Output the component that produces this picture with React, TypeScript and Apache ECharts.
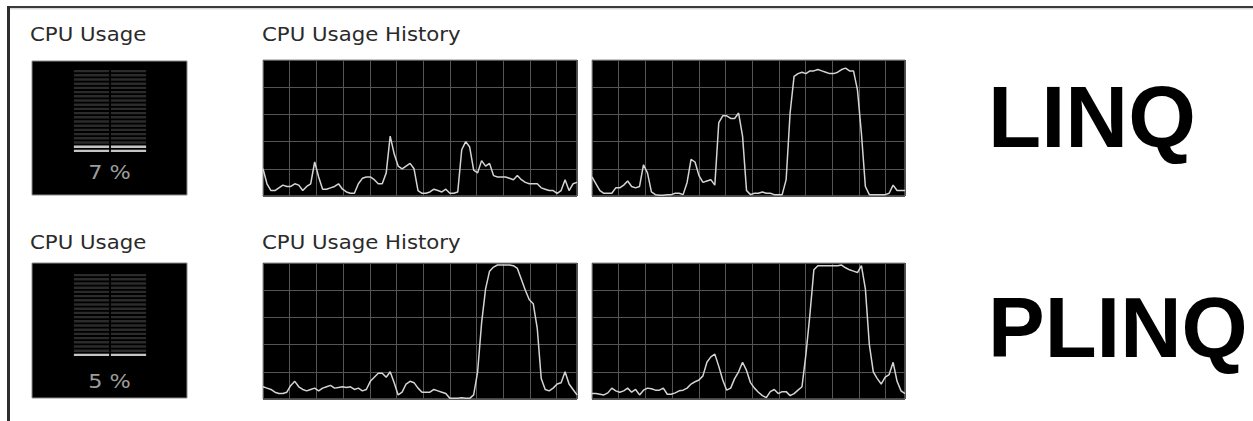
import React, { useEffect, useRef } from "react";
import * as echarts from "echarts";

// ---- Data (CPU %, one sample per tick) ----
const linqHistoryCore1 = [
  20, 9, 4, 4, 6, 8, 7, 7, 9, 8, 4, 7, 9, 25, 14, 5, 5, 6, 7, 9,
  5, 3, 2, 2, 9, 13, 14, 14, 12, 9, 9, 17, 44, 31, 22, 20, 22, 24, 20, 4,
  2, 2, 3, 5, 4, 3, 5, 2, 2, 3, 34, 40, 36, 19, 17, 26, 22, 24, 15, 14,
  14, 14, 13, 12, 15, 12, 10, 9, 9, 9, 6, 5, 4, 4, 2, 4, 12, 4, 9, 10,
];
const linqHistoryCore2 = [
  14, 9, 4, 2, 2, 2, 6, 6, 8, 11, 7, 6, 7, 23, 17, 3, 1, 0.5, 0.5, 1,
  1, 2, 2, 1, 10, 27, 25, 15, 10, 11, 12, 8, 54, 59, 59, 57, 57, 61, 44, 4,
  1, 2, 2, 3, 2, 2, 1, 1, 1, 12, 61, 88, 90, 91, 90, 92, 92, 93, 92, 91,
  90, 90, 91, 93, 94, 92, 92, 78, 46, 7, 1, 1, 1, 1, 1, 2, 8, 4, 4, 4,
];
const plinqHistoryCore1 = [
  9, 8, 7, 5, 4, 4, 5, 10, 13, 9, 7, 6, 7, 8, 6, 8, 9, 10, 8, 8.5,
  9, 8.5, 9, 7, 8, 6, 7, 13, 16, 19, 19, 16, 20, 12, 3, 5, 11, 13, 12, 8,
  5, 5, 5, 7, 6, 5, 4, 0.5, 0.5, 0.5, 1, 0.5, 0.5, 3, 20, 56, 81, 94, 97, 98.5,
  98.5, 98.5, 98.5, 98, 96, 88, 80, 73, 70, 52, 15, 7, 6, 8, 11, 12, 20, 11, 7, 3,
];
const plinqHistoryCore2 = [
  4, 4, 3.5, 3, 4.5, 8, 6, 5, 6, 8, 5, 7, 3, 6.5, 8, 7.5, 6.5, 6.5, 8, 3.5,
  3.5, 4.5, 6, 6.5, 8, 11, 12.7, 14, 17, 27, 31, 33, 24, 14, 6.5, 8, 15, 20, 27, 21,
  12, 8, 5, 2.5, 1, 5.4, 7, 4, 5.4, 5.4, 2.5, 4, 6.5, 9, 33, 62, 95, 98, 98, 98,
  98, 98, 98, 98.5, 96.5, 95, 94, 93, 98, 81, 40, 20, 15, 11, 16, 18, 27, 13, 6, 4,
];
const cpuUsageNow = [7, 5]; // LINQ row, PLINQ row
const meterColumns = ["CPU 0", "CPU 1"];
const rowLabels = ["LINQ", "PLINQ"];
const panelTitles = ["CPU Usage", "CPU Usage History"];

export default function App() {
  const ref = useRef<HTMLDivElement>(null);

  useEffect(() => {
    if (!ref.current) return;
    const chart = echarts.init(ref.current, undefined, { renderer: "svg" });

    const histories = [linqHistoryCore1, linqHistoryCore2, plinqHistoryCore1, plinqHistoryCore2];
    const histBoxes = [
      { left: 263, top: 60, width: 314, height: 136 },
      { left: 592, top: 60, width: 313, height: 136 },
      { left: 263, top: 263, width: 314, height: 136 },
      { left: 592, top: 263, width: 313, height: 136 },
    ];
    const meterAreas = [
      { left: 73, top: 69, width: 74, height: 84 },
      { left: 73, top: 273, width: 74, height: 84 },
    ];
    const meterBoxes = [
      { x: 32, y: 61, width: 155, height: 134 },
      { x: 32, y: 263, width: 155, height: 135 },
    ];
    const rowTop = [0, 208];

    const grid: any[] = [];
    const xAxis: any[] = [];
    const yAxis: any[] = [];
    const series: any[] = [];
    const gridLineColor = "#555555";

    histories.forEach((vals, g) => {
      grid.push({
        ...histBoxes[g],
        show: true,
        backgroundColor: "#000",
        borderColor: "#8c8c8c",
        borderWidth: 1,
        containLabel: false,
      });
      xAxis.push({
        type: "category",
        gridIndex: g,
        boundaryGap: false,
        data: vals.map((_, i) => i),
        show: false,
      });
      xAxis.push({
        type: "value",
        gridIndex: g,
        position: "top",
        min: -0.68,
        max: -0.68 + histBoxes[g].width / 26.7,
        interval: 1,
        axisLine: { show: false },
        axisTick: { show: false },
        axisLabel: { show: false },
        splitLine: { show: true, lineStyle: { color: gridLineColor, width: 1 } },
      });
      yAxis.push({
        type: "value",
        gridIndex: g,
        min: 0,
        max: 100,
        interval: 20,
        axisLine: { show: false },
        axisTick: { show: false },
        axisLabel: { show: false },
        splitLine: { show: true, lineStyle: { color: gridLineColor, width: 1 } },
      });
      series.push({
        type: "line",
        xAxisIndex: 2 * g,
        yAxisIndex: g,
        data: vals,
        showSymbol: false,
        lineStyle: { color: "#d4d4d4", width: 1.5 },
        z: 5,
      });
    });

    cpuUsageNow.forEach((v, m) => {
      const gi = 4 + m;
      grid.push({ ...meterAreas[m], show: false, containLabel: false });
      xAxis.push({ type: "category", gridIndex: gi, data: meterColumns, show: false });
      yAxis.push({ type: "value", gridIndex: gi, min: 0, max: 100, show: false });
      const common = {
        type: "pictorialBar",
        xAxisIndex: 8 + m,
        yAxisIndex: gi,
        symbol: "rect",
        symbolSize: [35, 2.2],
        symbolRepeat: true,
        symbolMargin: "1!",
        symbolBoundingData: 100,
        barWidth: 35,
        barGap: "-100%",
      };
      series.push({
        ...common,
        data: meterColumns.map(() => 100),
        itemStyle: { color: "#2b2b2b" },
        z: 3,
      });
      series.push({
        ...common,
        data: meterColumns.map(() => v),
        itemStyle: { color: "#c4c4c4" },
        z: 4,
      });
    });

    const textFont = "DejaVu Sans";
    const graphic: any[] = [
      { type: "line", shape: { x1: 8, y1: 7, x2: 1253, y2: 7 }, style: { stroke: "#3a3a3a", lineWidth: 2 }, z: 1 },
      { type: "line", shape: { x1: 8, y1: 8.8, x2: 1253, y2: 8.8 }, style: { stroke: "#c8c8c8", lineWidth: 1 }, z: 1 },
      { type: "line", shape: { x1: 8.5, y1: 6, x2: 8.5, y2: 421 }, style: { stroke: "#2e2e2e", lineWidth: 3 }, z: 1 },
    ];
    meterBoxes.forEach((b, m) => {
      graphic.push({
        type: "rect",
        shape: b,
        style: { fill: "#000", stroke: "#8c8c8c", lineWidth: 1 },
        z: 0,
      });
      graphic.push({
        type: "text",
        x: b.x + b.width / 2,
        y: m === 0 ? 172 : 381,
        scaleX: 1.12,
        style: {
          text: `${cpuUsageNow[m]} %`,
          fill: "#9c9c9c",
          font: `20px '${textFont}'`,
          align: "center",
          verticalAlign: "middle",
        },
        z: 10,
      });
    });
    rowTop.forEach((dy, r) => {
      graphic.push({
        type: "text",
        x: 30,
        y: 34 + dy,
        scaleX: 1.12,
        style: { text: panelTitles[0], fill: "#2a2a2a", font: `19px '${textFont}'`, verticalAlign: "middle" },
        z: 10,
      });
      graphic.push({
        type: "text",
        x: 262,
        y: 34 + dy,
        scaleX: 1.12,
        style: { text: panelTitles[1], fill: "#2a2a2a", font: `19px '${textFont}'`, verticalAlign: "middle" },
        z: 10,
      });
      graphic.push({
        type: "text",
        x: 988,
        y: r === 0 ? 160 : 370,
        style: {
          text: rowLabels[r],
          fill: "#000",
          font: `bold ${r === 0 ? 87 : 85}px 'Liberation Sans'`,
          verticalAlign: "bottom",
        },
        z: 10,
      });
    });

    chart.setOption({
      animation: false,
      backgroundColor: "#fff",
      grid,
      xAxis,
      yAxis,
      series,
      graphic,
    });

    return () => chart.dispose();
  }, []);

  return (
    <div
      ref={ref}
      style={{ position: "absolute", left: 0, top: 0, width: 1253, height: 421, background: "#fff" }}
    />
  );
}
